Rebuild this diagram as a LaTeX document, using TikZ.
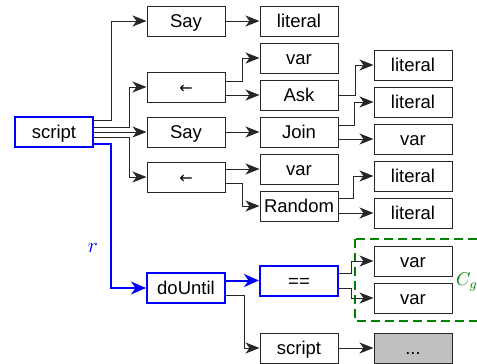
\documentclass[tikz,border=0pt]{standalone}
\usepackage{fontspec}
\setmainfont{Liberation Sans}
\newfontfamily\djv{DejaVu Sans}
\usetikzlibrary{arrows.meta,calc}
\definecolor{dgreen}{RGB}{0,128,0}
\definecolor{lgray}{RGB}{192,192,192}
\begin{document}
\begin{tikzpicture}[x=1pt,y=-1pt,
 box/.style={draw=black!85, line width=1pt, minimum width=78pt, minimum height=30pt, inner sep=0pt, text height=13pt, text depth=0pt, font=\fontsize{18.5}{20}\selectfont},
 bbox/.style={box, draw=blue, line width=2pt},
 arr/.style={draw=black!85, line width=1pt, -{Stealth[length=14pt,width=11pt,inset=4pt]}},
 barr/.style={draw=blue, line width=2pt, -{Stealth[length=15pt,width=13pt,inset=4.5pt]}},
]
\useasboundingbox (0,0) rectangle (477,364);
\clip (0,0) rectangle (477,364);
% column 1
\node[bbox] (script) at (54,132) {script};
% column 2
\node[box] (say1) at (186,21) {Say};
\node[box] (larr1) at (186,87) {\djv\fontsize{16}{16}\selectfont ←};
\node[box] (say2) at (186,132) {Say};
\node[box] (larr2) at (186,177) {\djv\fontsize{16}{16}\selectfont ←};
\node[bbox] (dountil) at (186,288) {doUntil};
% column 3
\node[box] (lit1) at (299,21) {literal};
\node[box] (var1) at (299,58) {var};
\node[box] (ask) at (299,95) {Ask};
\node[box] (join) at (299,132) {Join};
\node[box] (var2) at (299,169) {var};
\node[box] (random) at (299,206) {Random};
\node[bbox] (eq) at (299,280.5) {==};
\node[box] (script2) at (299,348) {script};
% column 4
\node[box] (lit2) at (413,65) {literal};
\node[box] (lit3) at (413,102) {literal};
\node[box] (var3) at (413,139) {var};
\node[box] (lit4) at (413,176) {literal};
\node[box] (lit5) at (413,213) {literal};
\node[box] (var4) at (413,261) {var};
\node[box] (var5) at (413,298) {var};
\node[box, fill=lgray] (dots) at (413,348) {...};
% group
\draw[draw=dgreen, line width=2pt, dash pattern=on 9pt off 5pt] (355,239) rectangle (495,321);
\node[text=dgreen, inner sep=0pt] (cg) at (467,282) {\scalebox{1.85}{$C_g$}};
\node[text=blue, inner sep=0pt] (rl) at (93,248) {\scalebox{2.1}{$r$}};
% edges from script
\draw[arr] ($(script.east)+(0,-12)$) -- ++(17,0) |- (say1.west);
\draw[arr] ($(script.east)+(0,-5)$) -- ++(35,0) |- (larr1.west);
\draw[arr] (script.east) -- (say2.west);
\draw[arr] ($(script.east)+(0,5)$) -- ++(35,0) |- (larr2.west);
\draw[barr] ($(script.east)+(0,12)$) -- ++(17,0) |- (dountil.west);
% column 2 -> 3
\draw[arr] (say1.east) -- (lit1.west);
\draw[arr] ($(larr1.east)+(0,-6)$) -- ++(17,0) |- (var1.west);
\draw[arr] (ask.west -| larr1.east) -- (ask.west);
\draw[arr] (say2.east) -- (join.west);
\draw[arr] (var2.west -| larr2.east) -- (var2.west);
\draw[arr] ($(larr2.east)+(0,6)$) -- ++(17,0) |- (random.west);
\draw[barr] (eq.west -| dountil.east) -- (eq.west);
\draw[arr] ($(dountil.east)+(0,7)$) -- ++(18,0) |- (script2.west);
% column 3 -> 4
\draw[arr] (ask.east) -- ++(17,0) |- (lit2.west);
\draw[arr] ($(join.east)+(0,-7)$) -- ++(16,0) |- (lit3.west);
\draw[arr] (var3.west -| join.east) -- (var3.west);
\draw[arr] ($(random.east)+(0,-8)$) -- ++(15,0) |- (lit4.west);
\draw[arr] (lit5.west -| random.east) -- (lit5.west);
\draw[arr] ($(eq.east)+(0,-7.5)$) -- ++(12,0) |- (var4.west);
\draw[arr] ($(eq.east)+(0,7.5)$) -- ++(12,0) |- (var5.west);
\draw[arr] (script2.east) -- (dots.west);
\end{tikzpicture}
\end{document}
